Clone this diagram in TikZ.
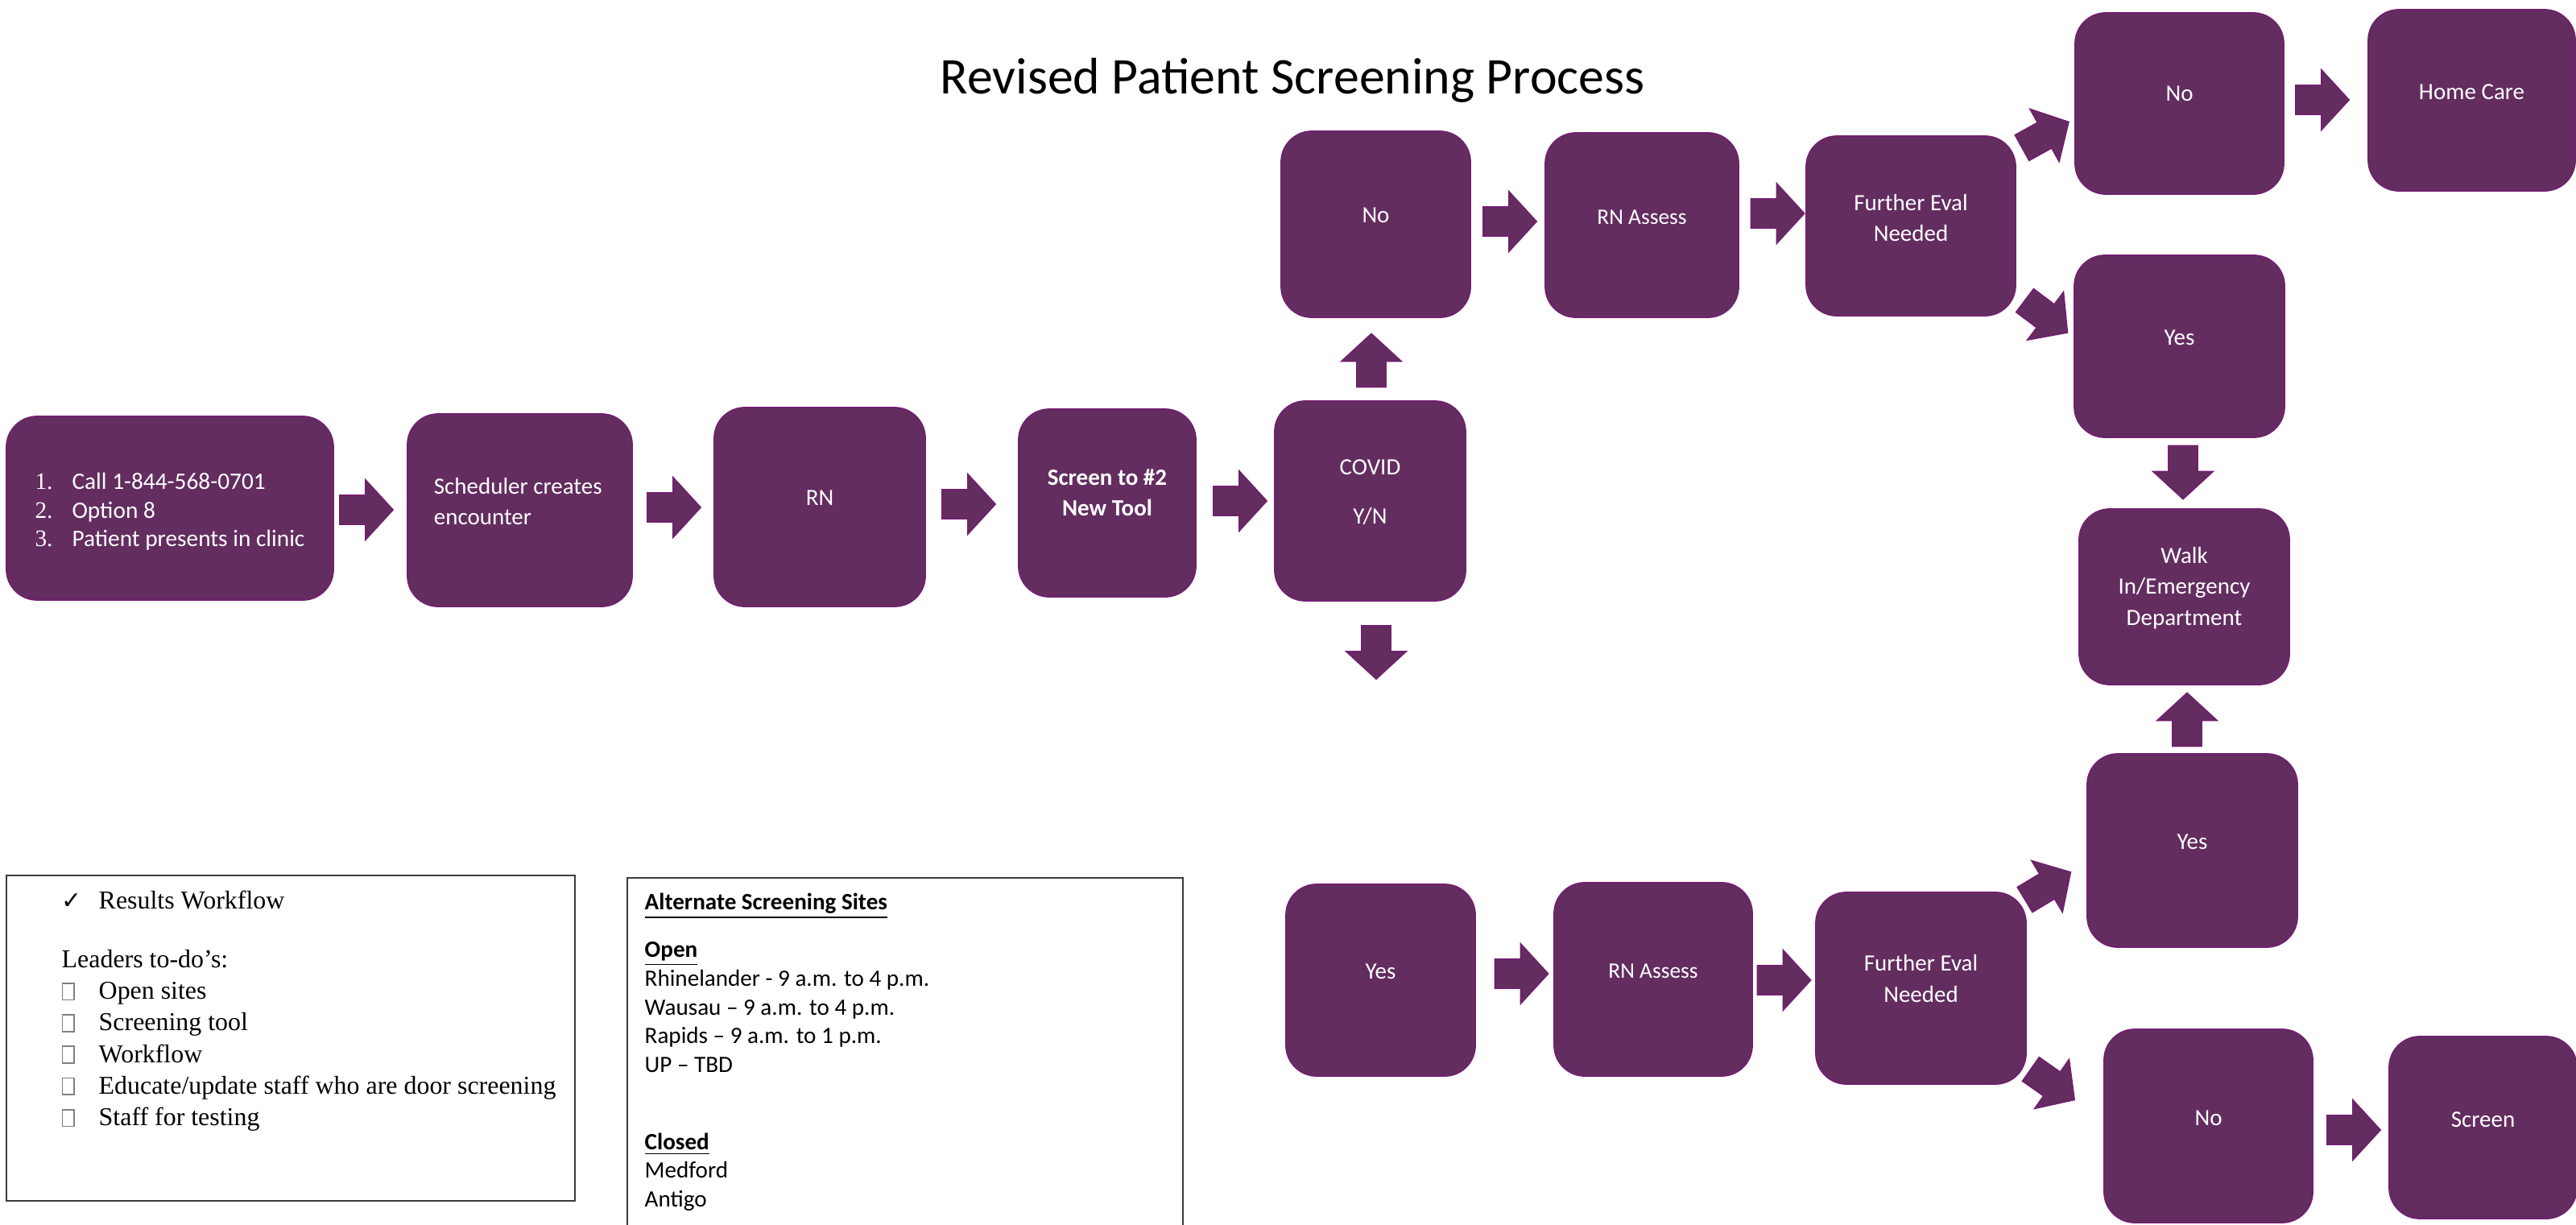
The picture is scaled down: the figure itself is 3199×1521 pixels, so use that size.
\documentclass[tikz,border=0pt]{standalone}
\usepackage{fontspec}
\setmainfont{Carlito}
\newfontfamily\timesf{Liberation Serif}
\newfontfamily\dejavu{DejaVu Sans}
\usetikzlibrary{calc}
\newdimen\pxu \pxu=0.01cm
\definecolor{pfill}{RGB}{99,45,96}
\definecolor{pline}{RGB}{112,32,110}
\definecolor{lgray}{RGB}{60,60,60}
\newcommand\emptysq{\leavevmode{\color{gray}\fboxsep0pt\fboxrule0.5pt\fbox{\rule{0pt}{19\pxu}\hspace{13\pxu}}}}
\newcommand\firstcol[1]{\makebox[46\pxu][l]{#1}}
\tikzset{
 pbox/.style={draw=pline, fill=pfill, line width=0.5pt, rounded corners=0.38cm, inner sep=0pt},
 ptext/.style={text=white, font=\fontsize{8.25}{10.9}\selectfont, align=center, inner sep=0pt},
 ptextsm/.style={ptext, font=\fontsize{7.8}{10}\selectfont},
 legbox/.style={draw=lgray, line width=0.6pt},
 barrowshape/.style={draw=pline, fill=pfill, line width=0.5pt, line join=miter},
 pics/barrow/.style={code={\path[barrowshape] (-33,-18) -- (-1,-18) -- (-1,-37) -- (33,0) -- (-1,37) -- (-1,18) -- (-33,18) -- cycle;}},
}
\begin{document}
\begin{tikzpicture}[x=0.01cm, y=-0.01cm]
\useasboundingbox (0,0) rectangle (3199,1521);
\clip (0,0) rectangle (3199,1521);

% title
\node[font=\fontsize{18.15}{22}\selectfont, anchor=base, inner sep=0pt] (title) at (1605,116) {Revised Patient Screening Process};

% boxes
\node[pbox, minimum width=406\pxu, minimum height=228\pxu] (b1) at (211,631) {};
\node[pbox, minimum width=279\pxu, minimum height=239\pxu] (b2) at (645.5,633.5) {};
\node[pbox, minimum width=262\pxu, minimum height=247\pxu] (b3) at (1018,629.5) {};
\node[pbox, minimum width=220\pxu, minimum height=233\pxu] (b4) at (1375,624.5) {};
\node[pbox, minimum width=237\pxu, minimum height=248\pxu] (b5) at (1701.5,622) {};
\node[pbox, minimum width=235\pxu, minimum height=231\pxu] (b6) at (1708.5,278.5) {};
\node[pbox, minimum width=240\pxu, minimum height=229\pxu] (b7) at (2039,279.5) {};
\node[pbox, minimum width=260\pxu, minimum height=223\pxu] (b8) at (2373,280.5) {};
\node[pbox, minimum width=259\pxu, minimum height=225\pxu] (b9) at (2706.5,128.5) {};
\node[pbox, minimum width=257\pxu, minimum height=225\pxu] (b10) at (3069.5,124.5) {};
\node[pbox, minimum width=261\pxu, minimum height=226\pxu] (b11) at (2706.5,430) {};
\node[pbox, minimum width=261\pxu, minimum height=218\pxu] (b12) at (2712.5,741) {};
\node[pbox, minimum width=261\pxu, minimum height=240\pxu] (b13) at (2722.5,1056) {};
\node[pbox, minimum width=235\pxu, minimum height=238\pxu] (b14) at (1714.5,1217) {};
\node[pbox, minimum width=246\pxu, minimum height=240\pxu] (b15) at (2053,1216) {};
\node[pbox, minimum width=261\pxu, minimum height=238\pxu] (b16) at (2385.5,1227) {};
\node[pbox, minimum width=259\pxu, minimum height=240\pxu] (b17) at (2742.5,1398) {};
\node[pbox, minimum width=233\pxu, minimum height=226\pxu] (b18) at (3083.5,1400) {};

% box texts
\node[ptext, align=left, font=\fontsize{8.34}{9.96}\selectfont] (t1) at ([yshift=-0.5mm]b1.center)
 {\begin{tabular}{@{}l@{}l@{}}\firstcol{\timesf 1.} & Call 1-844-568-0701\\ \firstcol{\timesf 2.} & Option 8\\ \firstcol{\timesf 3.} & Patient presents in clinic\end{tabular}};
\node[ptext, align=left, anchor=west] (t2) at ([xshift=0.33cm, yshift=1.1mm]b2.west) {Scheduler creates\\encounter};
\node[ptext] (t3) at ([yshift=1.1mm]b3.center) {RN};
\node[ptext, font=\fontsize{8.25}{10.9}\selectfont\bfseries] (t4) at ([yshift=1.3mm]b4.center) {Screen to \#2\\New Tool};
\node[ptext] (t5) at ([yshift=1.05mm]b5.center) {COVID\\[6.5pt]Y/N};
\node[ptext] (t6) at ([yshift=1.1mm]b6.center) {No};
\node[ptextsm] (t7) at ([yshift=1.0mm]b7.center) {RN Assess};
\node[ptext] (t8) at ([yshift=1.0mm]b8.center) {Further Eval\\Needed};
\node[ptext] (t9) at ([yshift=1.2mm]b9.center) {No};
\node[ptext] (t10) at ([yshift=1.0mm]b10.center) {Home Care};
\node[ptext] (t11) at ([yshift=1.1mm]b11.center) {Yes};
\node[ptext] (t12) at ([yshift=1.1mm]b12.center) {Walk\\In/Emergency\\Department};
\node[ptext] (t13) at ([yshift=1.1mm]b13.center) {Yes};
\node[ptext] (t14) at ([yshift=1.1mm]b14.center) {Yes};
\node[ptextsm] (t15) at ([yshift=1.0mm]b15.center) {RN Assess};
\node[ptext] (t16) at ([yshift=1.2mm]b16.center) {Further Eval\\Needed};
\node[ptext] (t17) at ([yshift=1.0mm]b17.center) {No};
\node[ptext] (t18) at ([yshift=1.0mm]b18.center) {Screen};

% block arrows
\pic at (455,633) {barrow};
\pic at (837,630) {barrow};
\pic at (1203,626) {barrow};
\pic at (1540,622) {barrow};
\pic[rotate=90] at (1703,447.5) {barrow};
\pic[rotate=-90] at (1709,810) {barrow};
\pic at (1875,275) {barrow};
\pic at (2207.5,265) {barrow};
\pic[rotate=29] at (2540,167.5) {barrow};
\pic[rotate=-37] at (2541,393) {barrow};
\pic at (2884,124) {barrow};
\pic[rotate=-90] at (2711,586.5) {barrow};
\pic[rotate=90] at (2716,893.5) {barrow};
\pic at (1889.5,1209) {barrow};
\pic at (2215.5,1217) {barrow};
\pic[rotate=31] at (2543,1100) {barrow};
\pic[rotate=-35] at (2549,1346.5) {barrow};
\pic at (2923,1403) {barrow};

% legend boxes
\draw[legbox] (8,1087) rectangle (714,1491);
\node[anchor=base west, inner sep=0pt, align=left, font=\timesf\fontsize{9.08}{11.15}\selectfont] (todo) at (76,1128.5)
 {\begin{tabular}[t]{@{}l@{}l@{}}
 \firstcol{\dejavu\fontsize{8.5}{10}\selectfont ✓} & Results Workflow\\[9.6pt]
 \multicolumn{2}{@{}l@{}}{Leaders to-do’s:}\\
 \firstcol{\emptysq} & Open sites\\
 \firstcol{\emptysq} & Screening tool\\
 \firstcol{\emptysq} & Workflow\\
 \firstcol{\emptysq} & Educate/update staff who are door screening\\
 \firstcol{\emptysq} & Staff for testing
 \end{tabular}};

\draw[legbox] (779,1090) rectangle (1469,1560);
\node[anchor=base west, inner sep=0pt, font=\fontsize{8.28}{10.1}\selectfont] (sites) at (800,1129)
 {\begin{tabular}[t]{@{}l@{}}
 \underline{\textbf{Alternate Screening Sites}}\\[6.7pt]
 \underline{\textbf{Open}}\\
 Rhinelander - 9 a.m. to 4 p.m.\\
 Wausau – 9 a.m. to 4 p.m.\\
 Rapids – 9 a.m. to 1 p.m.\\
 UP – TBD\\[17.2pt]
 \underline{\textbf{Closed}}\\
 Medford\\
 Antigo
 \end{tabular}};
\end{tikzpicture}
\end{document}
